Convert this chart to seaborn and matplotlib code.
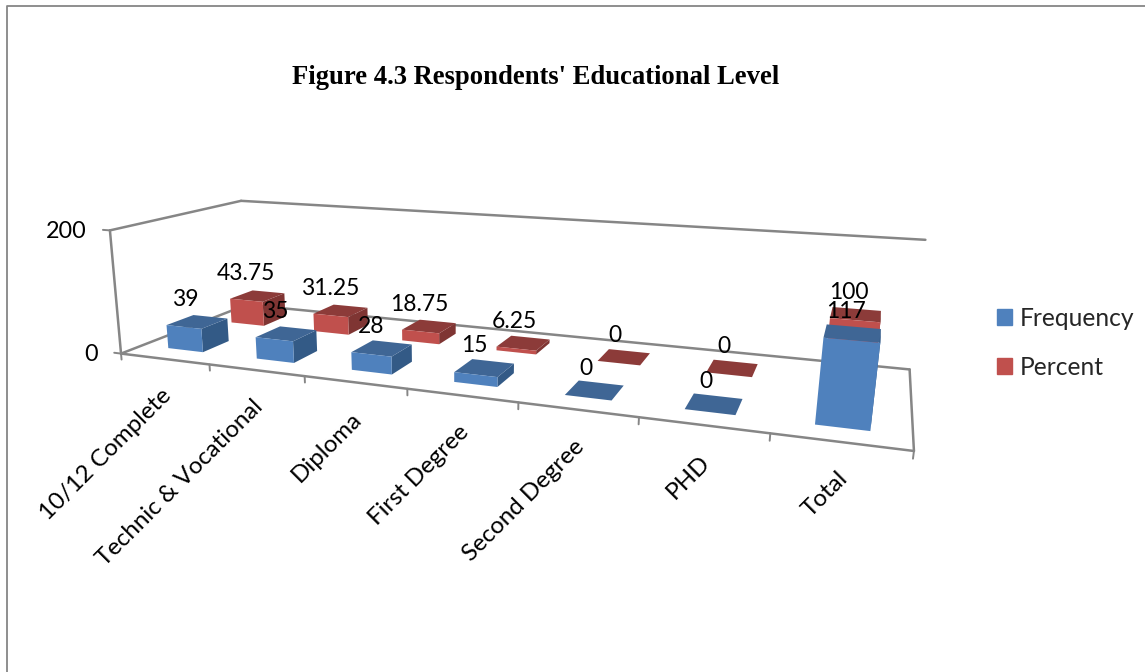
import numpy as np
import matplotlib
matplotlib.use("Agg")
import matplotlib.pyplot as plt
from matplotlib.lines import Line2D
from matplotlib.patches import Patch
from mpl_toolkits.mplot3d import proj3d
import seaborn as sns

# Survey table
categories = ["10/12 Complete", "Technic & Vocational", "Diploma", "First Degree",
              "Second Degree", "PHD", "Total"]
frequency = [39, 35, 28, 15, 0, 0, 117]
percent = [43.75, 31.25, 18.75, 6.25, 0, 0, 100]
value_ticks = [0, 200]
title = "Figure 4.3 Respondents' Educational Level"

W, H = 1145, 672
sns.set_theme(style="white")
plt.rcParams["font.family"] = ["Lato", "DejaVu Sans"]

BLUE = sns.color_palette(["#4F81BD", "#3F6695", "#335A86"])
RED = sns.color_palette(["#C0504D", "#8C3B39", "#7F3533"])
GREY = "#868686"
N = len(categories)
ZMAX = value_ticks[-1]

# Camera: projective map from (category, depth, value) to canvas position,
# solved from where the chart box's corners and category ticks fall.
box = [
    ((0, 0, 0), (122, 353)), ((1, 0, 0), (211, 365)), ((2, 0, 0), (305, 377)),
    ((3, 0, 0), (407, 390)), ((4, 0, 0), (518, 403)), ((5, 0, 0), (638, 417)),
    ((6, 0, 0), (770, 432)), ((7, 0, 0), (915, 450)),
    ((0, 1, 0), (245, 304)), ((7, 1, 0), (910, 370)),
    ((0, 0, ZMAX), (108, 230)), ((0, 1, ZMAX), (243, 201)), ((7, 1, ZMAX), (925, 240)),
]
rows, rhs = [], []
for (x, y, z), (u, v) in box:
    rows.append([x, y, z, 1, 0, 0, 0, 0, -u * x, -u * y, -u * z])
    rows.append([0, 0, 0, 0, x, y, z, 1, -v * x, -v * y, -v * z])
    rhs += [u, v]
p = np.append(np.linalg.lstsq(np.array(rows, float), np.array(rhs, float), rcond=None)[0], 1.0)
M = np.array([p[:4], p[4:8], [0, 1, 0, 0], p[8:12]])


def to_canvas(x, y, z):
    u, v, _ = proj3d.proj_transform(x, y, z, M)
    return float(u), float(v)


fig = plt.figure(figsize=(W / 100, H / 100), dpi=100)
ax = fig.add_axes([0, 0, 1, 1], projection="3d", computed_zorder=False)
ax.set_proj_type("ortho")
ax.get_proj = lambda: M
ax.apply_aspect = lambda position=None: None
ax.set_axis_off()

# Chart box
frame = dict(color=GREY, lw=1.8, zorder=1, solid_capstyle="round")
for a, b in [((0, 0, 0), (0, 0, ZMAX)), ((0, 0, ZMAX), (0, 1, ZMAX)),
             ((0, 1, ZMAX), (N, 1, ZMAX)), ((0, 0, 0), (0, 1, 0)),
             ((0, 1, 0), (N, 1, 0)), ((N, 1, 0), (N, 0, 0)), ((0, 0, 0), (N, 0, 0))]:
    ax.plot(*zip(a, b), **frame)
for k in range(N + 1):
    ax.plot([k, k], [0, 0], [0, -10], color=GREY, lw=1.4, zorder=1)
for t in value_ticks:
    ax.plot([0, -0.08], [0, 0], [t, t], color=GREY, lw=1.4, zorder=1)
    u, v = to_canvas(0, 0, t)
    ax.text2D(u - 23, v + 1, str(t), transform=ax.transData, ha="right", va="center",
              fontsize=16.8, color="black", zorder=6)

# Columns: front row is Frequency, back row is Percent
BAR_W, BAR_D = 0.4, 0.2
hidden = (0, 0, 0, 0)
series = [("Frequency", frequency, 0.15, BLUE, 3), ("Percent", percent, 0.65, RED, 2)]
for name, values, y0, (front, top, side), order in series:
    faces = [hidden, top, front, hidden, hidden, side]
    for i, val in enumerate(values):
        ax.bar3d(i + 0.3, y0, 0, BAR_W, BAR_D, val, color=faces, shade=False,
                 edgecolor="none", linewidth=0, zorder=order)
        u, v = to_canvas(i + 0.5, y0 + BAR_D / 2, val)
        dx = -12 + 5 * (u - 200) / 650
        ax.text2D(u + dx, v - 22, f"{val:g}", transform=ax.transData, ha="center",
                  va="center", fontsize=16.5, color="black", zorder=7)

# Category labels, slanted, ending just under the front edge
for i, name in enumerate(categories):
    u, v = to_canvas(i + 0.5, 0, 0)
    ax.text2D(u - 4, v + 26, name, transform=ax.transData, rotation=45, ha="right",
              va="top", rotation_mode="anchor", fontsize=17.4, color="black", zorder=6)

fig.text(535.5 / W, 1 - 77 / H, title, ha="center", va="center", fontsize=19.2,
         fontweight="bold", family="Liberation Serif", color="black")

ax.legend(handles=[Patch(color=BLUE[0], label="Frequency"), Patch(color=RED[0], label="Percent")],
          loc="upper left", bbox_to_anchor=(992 / W, 1 - 302 / H),
          bbox_transform=fig.transFigure, frameon=False, fontsize=17.7,
          handlelength=0.61, handleheight=0.61, handletextpad=0.3, labelspacing=1.05,
          borderpad=0.2, borderaxespad=0)

# Outer chart border
fig.add_artist(Line2D([7 / W, 7 / W, 1], [0, 1 - 5.5 / H, 1 - 5.5 / H], color=GREY, lw=1.3))

ax.viewLim.intervalx = (0, W)
ax.viewLim.intervaly = (H, 0)
fig.savefig("out.png", dpi=100)
